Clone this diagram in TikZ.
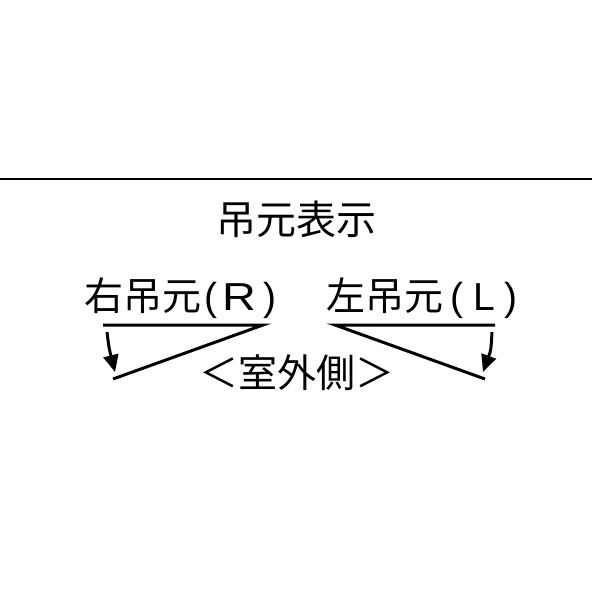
\documentclass[tikz,border=0pt]{standalone}
\usepackage{fontspec}
\setmainfont{Noto Sans CJK JP}
\newfontfamily\latinfont{Liberation Sans}
\usetikzlibrary{arrows.meta}
\begin{document}
\begin{tikzpicture}[x=1pt,y=-1pt,
  lbl/.style={inner sep=0pt,font=\fontsize{39}{42}\selectfont},
  ttl/.style={inner sep=0pt,font=\fontsize{40}{44}\selectfont},
  thick line/.style={line width=3pt},
  turnarrow/.style={line width=3pt,-{Triangle[length=17pt,width=15pt]}}]
\useasboundingbox (0,0) rectangle (592,592);
\coordinate (rl) at (0,179);
\coordinate (rr) at (592,179);
\draw[line width=1.8pt] (rl) -- (rr);
\node[ttl] (title) at (296,219.5) {吊元表示};
\node[lbl,anchor=base west] (rlabel) at (84,310)
  {右吊元{\latinfont\hspace{3pt}(\hspace{5pt}\scalebox{1.2}[1]{R}\hspace{8pt})}};
\node[lbl,anchor=base west] (llabel) at (326,310)
  {左吊元{\latinfont\hspace{7pt}(\hspace{10pt}L\hspace{10pt})}};
\node[lbl] (out) at (296.5,372.5) {＜室外側＞};
% right hinge
\coordinate (ra) at (103,325);
\coordinate (rb) at (263,325);
\coordinate (rc) at (113,379);
\draw[thick line] (ra) -- (rb) -- (rc);
\coordinate (rs) at (107,332);
\coordinate (re) at (115,372);
\draw[turnarrow] (rs) .. controls (109,348) .. (re);
% left hinge
\coordinate (la) at (335,325);
\coordinate (lb) at (495,325);
\coordinate (lc) at (485,379);
\draw[thick line] (lb) -- (la) -- (lc);
\coordinate (ls) at (492,332);
\coordinate (le) at (483,372);
\draw[turnarrow] (ls) .. controls (491,350) .. (le);
\end{tikzpicture}
\end{document}
